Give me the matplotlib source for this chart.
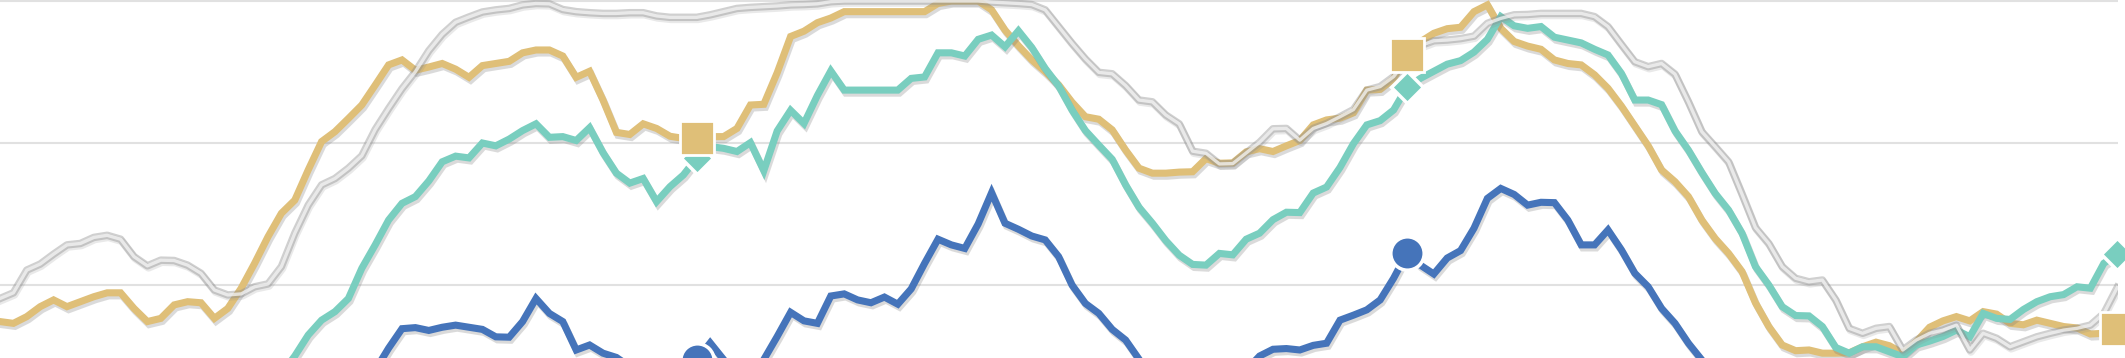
import matplotlib
matplotlib.use("Agg")
import matplotlib.pyplot as plt
import matplotlib.patheffects as pe
import numpy as np

# weekly values, one point per week (index 0..158)
gold = [
    9.7, 9.2, 11.1, 13.9, 15.8, 13.9, 15.3, 16.7, 17.8, 17.8,
    13.4, 9.7, 10.6, 14.4, 15.3, 15.0, 10.6, 13.4, 19.1, 26.1,
    33.6, 40.2, 43.9, 52.4, 60.4, 63.2, 66.9, 70.7, 76.3, 82.0,
    83.4, 80.5, 81.4, 82.4, 80.8, 78.5, 81.8, 82.4, 83.0, 85.4,
    86.2, 86.2, 84.5, 78.5, 80.2, 72.1, 63.0, 62.4, 65.4, 64.1,
    61.9, 61.3, 61.4, 61.8, 61.8, 64.1, 70.7, 70.9, 79.8, 90.0,
    91.5, 93.9, 95.2, 97.0, 97.0, 97.0, 97.0, 97.0, 97.0, 97.0,
    99.3, 100.0, 100.0, 100.0, 97.5, 91.8, 87.4, 83.4, 80.1, 76.4,
    71.5, 67.4, 66.7, 63.7, 58.0, 52.9, 51.5, 51.5, 51.8, 51.9,
    55.6, 54.3, 54.4, 57.5, 58.4, 57.6, 59.2, 60.7, 65.1, 66.5,
    67.0, 68.5, 74.9, 75.1, 78.1, 84.8, 88.5, 90.9, 92.2, 92.6,
    97.0, 98.9, 92.3, 88.6, 87.3, 86.4, 83.4, 82.4, 82.0, 79.2,
    75.4, 70.4, 64.8, 59.2, 52.4, 49.1, 44.9, 38.3, 33.1, 28.9,
    23.8, 15.0, 8.3, 3.1, 1.5, 1.7, 0.8, 0.8, 0.9, 2.6,
    3.9, 2.9, 0.8, 4.0, 8.1, 9.9, 11.1, 9.9, 12.5, 11.8,
    9.2, 8.8, 10.1, 9.2, 8.3, 7.9, 6.2, 6.4, 7.6,
]

teal = [
    -10, -10, -10, -10, -10, -10, -10, -10, -10, -10,
    -10, -10, -10, -10, -10, -10, -10, -10, -10, -10,
    -10, -5, 0.0, 5.9, 10.1, 12.5, 16.2, 24.7, 31.3, 38.3,
    43.0, 44.9, 49.3, 54.7, 56.3, 55.8, 60.0, 59.2, 61.1, 63.5,
    65.4, 61.6, 61.8, 60.7, 64.3, 57.3, 51.5, 48.7, 50.0, 43.5,
    47.7, 51.0, 55.8, 59.0, 58.5, 57.6, 60.1, 52.2, 63.4, 69.2,
    65.5, 73.4, 80.3, 74.9, 74.9, 74.9, 74.9, 74.9, 78.2, 78.6,
    85.4, 85.4, 84.5, 89.2, 90.4, 87.1, 91.6, 86.9, 81.0, 76.1,
    69.3, 63.5, 59.4, 55.4, 48.2, 41.9, 37.4, 32.5, 28.4, 25.8,
    25.6, 28.9, 28.5, 32.9, 34.6, 38.4, 40.5, 40.4, 45.9, 47.6,
    53.1, 59.8, 65.1, 66.3, 69.3, 75.7, 78.2, 80.2, 82.2, 83.2,
    85.6, 89.2, 95.6, 93.0, 92.3, 92.8, 89.8, 89.0, 88.2, 86.4,
    84.8, 79.6, 72.1, 72.1, 70.8, 63.4, 58.0, 51.7, 45.8, 41.1,
    34.6, 25.2, 20.0, 13.9, 11.4, 11.3, 8.3, 2.4, 0.8, 2.6,
    2.6, 1.2, -0.2, 3.1, 4.2, 5.5, 7.3, 5.4, 12.0, 10.6,
    10.3, 13.1, 15.3, 16.7, 17.3, 19.5, 19.1, 26.1, 28.7,
]

blue = [
    -15, -15, -15, -15, -15, -15, -15, -15, -15, -15,
    -15, -15, -15, -15, -15, -15, -15, -15, -15, -15,
    -15, -15, -15, -15, -15, -15, -15, -10, -4, 2.2,
    7.7, 8.0, 7.2, 8.1, 8.7, 8.1, 7.5, 5.4, 5.3, 9.7,
    16.2, 12.0, 9.7, 1.7, 3.1, 0.8, -0.4, -3, -5, -5,
    -4, -4, -1.1, 3.7, -1, -3, -3, -1, 5.5, 12.3,
    9.9, 9.2, 16.9, 17.5, 15.8, 15.0, 16.6, 14.6, 18.9, 26.1,
    32.9, 31.3, 30.3, 37.2, 46.0, 37.4, 35.7, 33.8, 32.7, 28.0,
    20.0, 14.8, 12.0, 7.5, 4.5, -0.9, -5, -8, -10, -10,
    -10, -9, -7, -4, 0.0, 1.9, 2.1, 1.7, 3.0, 3.6,
    10.1, 11.5, 13.0, 15.8, 21.9, 29.0, 25.6, 23.1, 27.6, 29.7,
    36.0, 44.4, 47.2, 45.5, 42.5, 43.3, 43.2, 38.3, 31.3, 31.3,
    35.5, 29.9, 23.3, 19.5, 13.4, 9.2, 3.6, -1.1, -6, -10,
    -12, -14, -15, -15, -15, -15, -15, -15, -15, -15,
    -15, -15, -15, -15, -15, -15, -15, -15, -15, -15,
    -15, -15, -15, -15, -15, -15, -15, -15, -15,
]

gray = [
    16.2, 17.8, 24.2, 25.9, 28.7, 31.3, 31.7, 33.4, 34.0, 32.9,
    28.0, 25.4, 27.0, 26.9, 25.6, 23.3, 18.6, 17.2, 17.5, 19.5,
    20.3, 25.2, 34.6, 42.5, 48.2, 50.0, 52.9, 56.4, 63.8, 69.7,
    75.3, 80.1, 86.0, 90.6, 94.0, 95.5, 96.9, 97.5, 97.9, 98.9,
    99.3, 99.2, 97.6, 97.0, 96.7, 96.5, 96.5, 96.7, 96.7, 95.8,
    95.4, 95.4, 95.4, 96.1, 97.0, 97.9, 98.2, 98.4, 98.6, 98.9,
    99.0, 99.2, 99.8, 100.0, 100.0, 100.0, 100.0, 100.0, 100.0, 100.0,
    100.0, 100.0, 100.0, 100.0, 99.7, 99.5, 99.3, 99.0, 97.5, 92.8,
    88.1, 83.7, 79.9, 79.5, 76.2, 72.1, 71.6, 67.9, 65.4, 57.7,
    57.1, 54.1, 54.2, 57.2, 60.2, 64.0, 64.1, 60.8, 64.1, 65.5,
    67.4, 69.4, 74.9, 75.9, 78.7, 83.5, 87.4, 88.8, 89.0, 89.4,
    90.1, 93.7, 95.1, 96.1, 96.2, 96.5, 96.5, 96.5, 96.5, 95.6,
    92.8, 87.8, 82.9, 81.5, 82.4, 79.4, 71.6, 63.2, 59.0, 54.7,
    45.6, 36.2, 31.7, 25.2, 21.9, 20.9, 21.4, 15.8, 7.8, 6.4,
    7.8, 8.3, 1.7, 4.5, 6.4, 7.3, 8.7, 1.7, 6.4, 5.0,
    2.6, 4.0, 5.4, 6.4, 7.3, 7.8, 8.7, 12.0, 19.3,
]

marker_weeks = [52, 105, 158]
grid_values = [20, 60, 100]

weeks = np.arange(len(gold))

GOLD = "#DFBF78"
TEAL = "#79CEBF"
BLUE = "#4574BA"

fig = plt.figure(figsize=(21.25, 3.58), dpi=100)
ax = fig.add_axes([0, 0, 2118 / 2125, 1])
ax.set_xlim(0, 158.06)
ax.set_ylim(-0.56, 100.28)
ax.axis("off")

for g in grid_values:
    ax.axhline(g, color="#e1e1e1", lw=1.5, zorder=0)

shadow = [pe.SimpleLineShadow(offset=(1.2, -2.2), shadow_color="#6f6f6f", alpha=0.25),
          pe.Normal()]

# --- coloured lines ---
LW = 5.1
ax.plot(weeks, blue, color=BLUE, lw=LW, zorder=3, path_effects=shadow,
        solid_joinstyle="miter")
ax.plot(weeks, gold, color=GOLD, lw=LW, zorder=4, path_effects=shadow,
        solid_joinstyle="miter")
ax.plot(weeks, teal, color=TEAL, lw=LW, zorder=5, path_effects=shadow,
        solid_joinstyle="miter")

# --- reference line: translucent grey with light core ---
ax.plot(weeks, gray, color="#8f8f8f", lw=5.4, alpha=0.42, zorder=6,
        path_effects=[pe.SimpleLineShadow(offset=(0.8, -1.5), shadow_color="#888888", alpha=0.18),
                      pe.Normal()])
ax.plot(weeks, gray, color="#f6f6f6", lw=2.4, alpha=0.75, zorder=6)

# --- markers at the same week of each year ---
mk = np.array(marker_weeks)
ax.plot(mk, np.array(blue)[mk], "o", ms=24, color=BLUE, mec="white", mew=2.5,
        zorder=7, clip_on=False)
ax.plot(mk, np.array(teal)[mk], "D", ms=16, color=TEAL, mec="white", mew=2.5,
        zorder=8, clip_on=False)
ax.plot(mk, np.array(gold)[mk], "s", ms=24, color=GOLD, mec="white", mew=2.0,
        zorder=9, clip_on=False)

fig.savefig("out.png", dpi=100, facecolor="white")
